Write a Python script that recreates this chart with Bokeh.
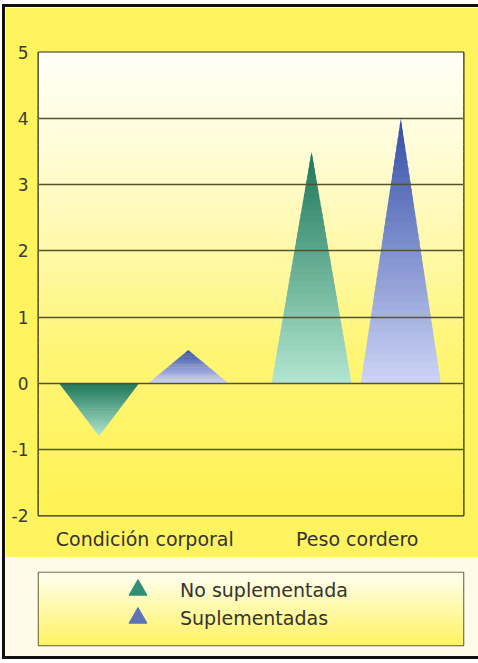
from bokeh.plotting import figure
from bokeh.models import FixedTicker, Legend, LegendItem
from bokeh.layouts import column
from bokeh.embed import file_html
from bokeh.resources import INLINE

# ---- data ----
categories = ["Condición corporal", "Peso cordero"]
series = ["No suplementada", "Suplementadas"]
no_suplementada = [-0.8, 3.5]
suplementadas = [0.5, 4.0]
y_ticks = [-2, -1, 0, 1, 2, 3, 4, 5]

FONT = "DejaVu Sans"
W = 474


def lerp(c1, c2, t):
    t = max(0.0, min(1.0, t))
    return "#%02x%02x%02x" % tuple(int(round(a + (b - a) * t)) for a, b in zip(c1, c2))


# ================= chart =================
p = figure(width=W, height=550, x_range=(0, len(categories)),
           y_range=(y_ticks[0], y_ticks[-1]),
           output_backend="svg", toolbar_location=None,
           min_border_left=33, min_border_right=W - 33 - 425,
           min_border_top=45, min_border_bottom=42)

p.border_fill_color = "#fff45e"
p.background_fill_color = "#fff35a"
p.outline_line_color = "#2a2a18"
p.outline_line_width = 2

stops = [(5.0, (255, 255, 246)), (3.5, (255, 252, 214)), (2.0, (255, 248, 168)),
         (0.5, (255, 245, 118)), (-2.0, (255, 242, 84))]


def bg_color(y):
    for (ya, ca), (yb, cb) in zip(stops[:-1], stops[1:]):
        if yb <= y <= ya:
            return lerp(ca, cb, (ya - y) / (ya - yb))
    return lerp(stops[-1][1], stops[-1][1], 0)


nb = 70
ylo, yhi = y_ticks[0], y_ticks[-1]
bots = [ylo + (yhi - ylo) * k / nb for k in range(nb)]
tops = [ylo + (yhi - ylo) * (k + 1) / nb + 0.01 for k in range(nb)]
cols = [bg_color((b + t) / 2) for b, t in zip(bots, tops)]
p.quad(left=0, right=len(categories), bottom=bots, top=tops, fill_color=cols, line_color=None)

p.xgrid.grid_line_color = None
p.ygrid.ticker = FixedTicker(ticks=y_ticks)
p.ygrid.grid_line_color = "#55532c"
p.ygrid.grid_line_width = 1.3
p.ygrid.level = "glyph"

offsets = {"No suplementada": -0.215, "Suplementadas": 0.205}
halfw = 0.188
grad = {"No suplementada": ((28, 118, 88), (178, 230, 210)),
        "Suplementadas": ((52, 78, 166), (205, 212, 246))}

for name, vals in (("No suplementada", no_suplementada), ("Suplementadas", suplementadas)):
    c_top, c_bot = grad[name]
    xs, ys, fc = [], [], []
    n = 36
    for i, v in enumerate(vals):
        cx = i + 0.5 + offsets[name]
        for k in range(n):
            s0 = k / n
            s1 = min(1.0, (k + 1) / n + 0.012)
            y0, y1 = s0 * v, s1 * v
            w0, w1 = halfw * (1 - s0), halfw * (1 - s1)
            xs.append([cx - w0, cx + w0, cx + w1, cx - w1])
            ys.append([y0, y0, y1, y1])
            sm = (k + 0.5) / n
            t = (1 - sm) if v > 0 else sm
            fc.append(lerp(c_top, c_bot, t))
    p.patches(xs=xs, ys=ys, fill_color=fc, line_color=None)

p.yaxis.ticker = FixedTicker(ticks=y_ticks)
p.yaxis.major_label_overrides = {t: str(t) for t in y_ticks}
p.yaxis.axis_line_color = None
p.yaxis.major_tick_line_color = None
p.yaxis.minor_tick_line_color = None
p.yaxis.major_tick_out = 0
p.yaxis.major_tick_in = 0
p.yaxis.minor_tick_out = 0
p.yaxis.major_label_standoff = 10
p.yaxis.major_label_text_font = FONT
p.yaxis.major_label_text_font_size = "17px"
p.yaxis.major_label_text_color = "#3a3a3a"

p.xaxis.ticker = FixedTicker(ticks=[i + 0.5 for i in range(len(categories))])
p.xaxis.major_label_overrides = {i + 0.5: c for i, c in enumerate(categories)}
p.xaxis.axis_line_color = None
p.xaxis.major_tick_line_color = None
p.xaxis.minor_tick_line_color = None
p.xaxis.major_tick_out = 0
p.xaxis.major_tick_in = 0
p.xaxis.minor_tick_out = 0
p.xaxis.major_label_standoff = 12
p.xaxis.major_label_text_font = FONT
p.xaxis.major_label_text_font_size = "19px"
p.xaxis.major_label_text_color = "#333333"

# ================= legend panel =================
q = figure(width=W, height=99, x_range=(0, 1), y_range=(0, 1),
           output_backend="svg", toolbar_location=None,
           min_border_left=33, min_border_right=W - 33 - 425,
           min_border_top=15, min_border_bottom=11)
q.axis.visible = False
q.grid.visible = False
q.border_fill_color = "#fffbe8"
q.outline_line_color = "#5d5b35"
q.outline_line_width = 1.5
nl = 20
lb = [k / nl for k in range(nl)]
lt = [(k + 1) / nl + 0.005 for k in range(nl)]
lc = [lerp((255, 243, 95), (255, 254, 240), (k + 0.5) / nl) for k in range(nl)]
q.quad(left=0, right=1, bottom=lb, top=lt, fill_color=lc, line_color=None)

nan = float("nan")
series_colors = ["#2f8e74", "#5a73b9"]
legend_y = [33, 5]
for name, colr, ly in zip(series, series_colors, legend_y):
    r = q.scatter(x=[nan], y=[nan], marker="triangle", size=16, fill_color=colr, line_color=colr)
    lg = Legend(items=[LegendItem(label=name, renderers=[r])],
                location=(77, ly), background_fill_alpha=0, border_line_alpha=0,
                label_text_font=FONT, label_text_font_size="19px", label_text_color="#333333",
                glyph_width=45, glyph_height=45, label_height=22, label_standoff=20,
                spacing=0, padding=0, margin=0)
    q.add_layout(lg)

lay = column(p, q, spacing=0,
             styles={"margin-top": "4px", "margin-left": "2px",
                     "border-top": "3px solid #111111",
                     "border-left": "3px solid #111111",
                     "border-bottom": "3px solid #111111"})

open("out.html", "w").write(file_html(lay, INLINE))
